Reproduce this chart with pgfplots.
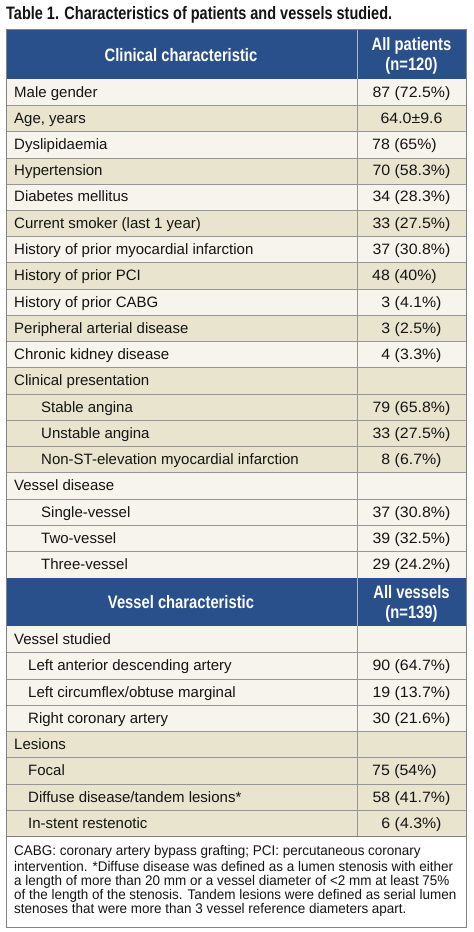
\documentclass[border=0pt]{standalone}
\usepackage{pgfplots}
\pgfplotsset{compat=1.18}
\usepackage{fontspec}
\setmainfont{Liberation Sans}
\newfontfamily\condfont{Liberation Sans}[FakeStretch=0.805]
\newfontfamily\hdrfont{Liberation Sans}[FakeStretch=0.82]
\newfontfamily\footfont{Liberation Sans}[FakeStretch=0.962]
\newfontfamily\valfont{Liberation Sans}[FakeStretch=1.06]
\definecolor{hdr}{RGB}{42,80,140}
\definecolor{lt}{RGB}{246,244,236}
\definecolor{tn}{RGB}{232,228,206}
\definecolor{gridc}{RGB}{150,150,150}
\definecolor{bordc}{RGB}{130,130,130}
\definecolor{txt}{RGB}{20,20,20}

% top, bottom, fill, label x, label, value anchor, value x, value, baseline
\newcommand{\Row}[9]{%
  \fill[#3] (axis cs:6,#1) rectangle (axis cs:466,#2);
  \node[anchor=base west,inner sep=0,text=txt] at (axis cs:#4,#9) {\fontsize{15bp}{17bp}\selectfont #5};
  \node[anchor=#6,inner sep=0,text=txt] at (axis cs:#7,#9) {\valfont\fontsize{15bp}{17bp}\selectfont #8};
}

\begin{document}
\begin{tikzpicture}
\begin{axis}[
  scale only axis, width=474bp, height=932bp,
  xmin=0, xmax=474, ymin=0, ymax=932, y dir=reverse,
  axis lines=none, clip=false]
\fill[white] (axis cs:0,0) rectangle (axis cs:474,932);

% title
\node[anchor=base west,inner sep=0,text=txt] at (axis cs:6,20)
  {\condfont\bfseries\fontsize{18bp}{20bp}\selectfont Table 1. Characteristics of patients and vessels studied.};

% header 1
\fill[hdr] (axis cs:6,30) rectangle (axis cs:466,79);
\draw[white!60!hdr,line width=1bp] (axis cs:357,30) -- (axis cs:357,79);
\node[anchor=base,inner sep=0,text=white] at (axis cs:181,61.5)
  {\hdrfont\bfseries\fontsize{18bp}{20bp}\selectfont Clinical characteristic};
\node[anchor=base,inner sep=0,text=white] at (axis cs:411.5,51)
  {\hdrfont\bfseries\fontsize{18bp}{20bp}\selectfont All patients};
\node[anchor=base,inner sep=0,text=white] at (axis cs:411.5,71)
  {\hdrfont\bfseries\fontsize{18bp}{20bp}\selectfont (n=120)};

\Row{79}{105.2}{lt}{14}{Male gender}{base}{411.5}{87 (72.5\%)}{97.1}
\Row{105.2}{131.6}{tn}{14}{Age, years}{base}{411.5}{64.0±9.6}{123.4}
\Row{131.6}{158}{lt}{14}{Dyslipidaemia}{base west}{372}{78 (65\%)}{149.8}
\Row{158}{184}{tn}{14}{Hypertension}{base}{411.5}{70 (58.3\%)}{176}
\Row{184}{210}{lt}{14}{Diabetes mellitus}{base}{411.5}{34 (28.3\%)}{202}
\Row{210}{236.4}{tn}{14}{Current smoker (last 1 year)}{base}{411.5}{33 (27.5\%)}{228.2}
\Row{236.4}{262.6}{lt}{14}{History of prior myocardial infarction}{base}{411.5}{37 (30.8\%)}{254.5}
\Row{262.6}{289}{tn}{14}{History of prior PCI}{base west}{372}{48 (40\%)}{280.8}
\Row{289}{315}{lt}{14}{History of prior CABG}{base}{411.5}{3 (4.1\%)}{307}
\Row{315}{341.5}{tn}{14}{Peripheral arterial disease}{base}{411.5}{3 (2.5\%)}{333.25}
\Row{341.5}{367.5}{lt}{14}{Chronic kidney disease}{base}{411.5}{4 (3.3\%)}{359.5}
\Row{367.5}{394}{tn}{14}{Clinical presentation}{base}{411.5}{}{385.75}
\Row{394}{420}{tn}{41}{Stable angina}{base}{411.5}{79 (65.8\%)}{412}
\Row{420}{446.5}{tn}{41}{Unstable angina}{base}{411.5}{33 (27.5\%)}{438.25}
\Row{446.5}{472.7}{tn}{41}{Non-ST-elevation myocardial infarction}{base}{411.5}{8 (6.7\%)}{464.6}
\Row{472.7}{499}{lt}{14}{Vessel disease}{base}{411.5}{}{490.85}
\Row{499}{525}{lt}{41}{Single-vessel}{base}{411.5}{37 (30.8\%)}{517}
\Row{525}{551.4}{lt}{41}{Two-vessel}{base}{411.5}{39 (32.5\%)}{543.2}
\Row{551.4}{578}{lt}{41}{Three-vessel}{base}{411.5}{29 (24.2\%)}{569.7}

% header 2
\fill[hdr] (axis cs:6,578) rectangle (axis cs:466,626);
\draw[white!60!hdr,line width=1bp] (axis cs:357,578) -- (axis cs:357,626);
\node[anchor=base,inner sep=0,text=white] at (axis cs:181,608.5)
  {\hdrfont\bfseries\fontsize{18bp}{20bp}\selectfont Vessel characteristic};
\node[anchor=base,inner sep=0,text=white] at (axis cs:411.5,598.5)
  {\hdrfont\bfseries\fontsize{18bp}{20bp}\selectfont All vessels};
\node[anchor=base,inner sep=0,text=white] at (axis cs:411.5,618)
  {\hdrfont\bfseries\fontsize{18bp}{20bp}\selectfont (n=139)};

\Row{626}{652.5}{lt}{14}{Vessel studied}{base}{411.5}{}{644.25}
\Row{652.5}{679}{lt}{28}{Left anterior descending artery}{base}{411.5}{90 (64.7\%)}{670.75}
\Row{679}{705}{lt}{28}{Left circumflex/obtuse marginal}{base}{411.5}{19 (13.7\%)}{697}
\Row{705}{731.3}{lt}{28}{Right coronary artery}{base}{411.5}{30 (21.6\%)}{723.15}
\Row{731.3}{757.6}{tn}{14}{Lesions}{base}{411.5}{}{749.45}
\Row{757.6}{784}{tn}{28}{Focal}{base west}{372}{75 (54\%)}{775.8}
\Row{784}{810.3}{tn}{28}{Diffuse disease/tandem lesions*}{base}{411.5}{58 (41.7\%)}{802.15}
\Row{810.3}{836.6}{tn}{28}{In-stent restenotic}{base}{411.5}{6 (4.3\%)}{828.45}

% row separators
\pgfplotsinvokeforeach{105.2,131.6,158,184,210,236.4,262.6,289,315,341.5,367.5,394,420,446.5,472.7,499,525,551.4,652.5,679,705,731.3,757.6,784,810.3}{
  \draw[gridc,line width=0.9bp] (axis cs:6,#1) -- (axis cs:466,#1);
}

% column dividers and borders
\draw[gridc,line width=0.9bp] (axis cs:357,79) -- (axis cs:357,578);
\draw[gridc,line width=0.9bp] (axis cs:357,626) -- (axis cs:357,836.6);
\draw[bordc,line width=1bp] (axis cs:6,30) rectangle (axis cs:466,836.6);
\draw[bordc,line width=1bp] (axis cs:6,836.6) rectangle (axis cs:466,927);

% footnote
\node[anchor=base west,inner sep=0,text=txt] at (axis cs:14,855.5)
  {\footfont\fontsize{14bp}{16bp}\selectfont CABG: coronary artery bypass grafting; PCI: percutaneous coronary};
\node[anchor=base west,inner sep=0,text=txt] at (axis cs:14,871)
  {\footfont\fontsize{14bp}{16bp}\selectfont intervention. *Diffuse disease was defined as a lumen stenosis with either};
\node[anchor=base west,inner sep=0,text=txt] at (axis cs:14,885.5)
  {\footfont\fontsize{14bp}{16bp}\selectfont a length of more than 20 mm or a vessel diameter of <2 mm at least 75\%};
\node[anchor=base west,inner sep=0,text=txt] at (axis cs:14,899.5)
  {\footfont\fontsize{14bp}{16bp}\selectfont of the length of the stenosis. Tandem lesions were defined as serial lumen};
\node[anchor=base west,inner sep=0,text=txt] at (axis cs:14,913.5)
  {\footfont\fontsize{14bp}{16bp}\selectfont stenoses that were more than 3 vessel reference diameters apart.};
\end{axis}
\end{tikzpicture}
\end{document}
